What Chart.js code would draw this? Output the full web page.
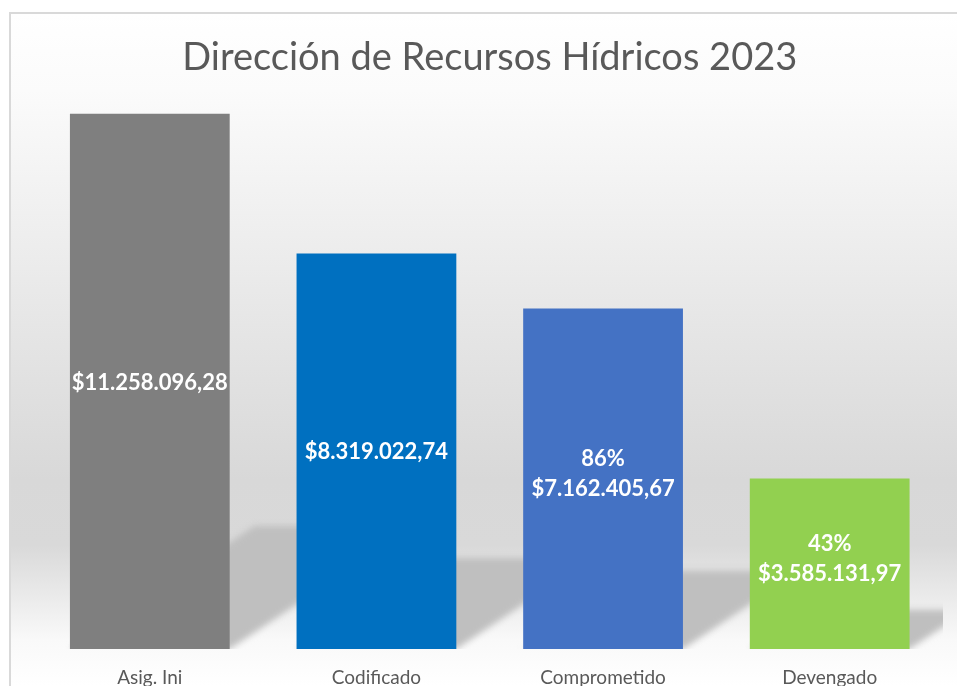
<!DOCTYPE html>
<html lang="es">
<head>
  <meta charset="UTF-8">
  <title>Dirección de Recursos Hídricos 2023</title>
  <script src="https://cdn.jsdelivr.net/npm/chart.js"></script>
  <style>
    body {
      margin: 0;
      background: #ffffff;
    }
    #chart {
      display: block;
    }
  </style>
</head>
<body>
  <canvas id="chart" width="957" height="686"></canvas>

  <script>
    // Data
    const categories = ['Asig. Ini', 'Codificado', 'Comprometido', 'Devengado'];
    const amounts = [11258096.28, 8319022.74, 7162405.67, 3585131.97];
    const percentLabels = ['', '', '86%', '43%'];
    const barColors = ['#7f7f7f', '#0070c0', '#4472c4', '#92d050'];

    const FONT = 'Lato, "Liberation Sans", sans-serif';

    // $11.258.096,28 style
    function money(v) {
      const parts = v.toFixed(2).split('.');
      const int = parts[0].replace(/\B(?=(\d{3})+(?!\d))/g, '.');
      return '$' + int + ',' + parts[1];
    }

    // frame + soft vertical gradient behind the plot
    const backdrop = {
      id: 'backdrop',
      beforeDraw(chart) {
        const ctx = chart.ctx;
        const w = chart.width, h = chart.height;
        ctx.save();
        ctx.fillStyle = '#ffffff';
        ctx.fillRect(0, 0, w, h);
        const g = ctx.createLinearGradient(0, 13, 0, h);
        g.addColorStop(0, '#ffffff');
        g.addColorStop((90 - 13) / (h - 13), '#fbfbfb');
        g.addColorStop((480 - 13) / (h - 13), '#d8d8d8');
        g.addColorStop((545 - 13) / (h - 13), '#d9d9d9');
        g.addColorStop((640 - 13) / (h - 13), '#f9f9f9');
        g.addColorStop(1, '#ffffff');
        ctx.fillStyle = g;
        ctx.fillRect(10, 13, w - 10, h - 13);
        ctx.strokeStyle = '#d9d9d9';
        ctx.lineWidth = 2;
        ctx.beginPath();
        ctx.moveTo(10, h);
        ctx.lineTo(10, 13);
        ctx.lineTo(w, 13);
        ctx.stroke();
        ctx.restore();
      }
    };

    // perspective shadow cast up and to the right of each bar
    const barShadow = {
      id: 'barShadow',
      beforeDatasetsDraw(chart) {
        const ctx = chart.ctx;
        const area = chart.chartArea;
        ctx.save();
        ctx.beginPath();
        ctx.rect(area.left, area.top, area.right - area.left, area.bottom - area.top);
        ctx.clip();
        ctx.filter = 'blur(3px)';
        ctx.fillStyle = '#bfbfbf';
        chart.getDatasetMeta(0).data.forEach(bar => {
          const p = bar.getProps(['x', 'y', 'base', 'width'], true);
          const left = p.x - p.width / 2, right = p.x + p.width / 2;
          const sh = (p.base - p.y) * 0.23;
          const dx = sh * 1.5;
          ctx.beginPath();
          ctx.moveTo(left, p.base);
          ctx.lineTo(right, p.base);
          ctx.lineTo(right + dx, p.base - sh);
          ctx.lineTo(left + dx, p.base - sh);
          ctx.closePath();
          ctx.fill();
        });
        ctx.restore();
      }
    };

    // white labels in the middle of the bars
    const barLabels = {
      id: 'barLabels',
      afterDatasetsDraw(chart) {
        const ctx = chart.ctx;
        ctx.save();
        ctx.fillStyle = '#ffffff';
        ctx.font = 'bold 22px ' + FONT;
        ctx.textAlign = 'center';
        ctx.textBaseline = 'middle';
        chart.getDatasetMeta(0).data.forEach((bar, i) => {
          const p = bar.getProps(['x', 'y', 'base'], true);
          const mid = (p.y + p.base) / 2;
          const lines = percentLabels[i] ? [percentLabels[i], money(amounts[i])] : [money(amounts[i])];
          const step = 30;
          const y0 = mid - (lines.length - 1) * step / 2 - (lines.length > 1 ? 5 : -1);
          lines.forEach((t, k) => ctx.fillText(t, p.x, y0 + k * step));
        });
        ctx.restore();
      }
    };

    new Chart(document.getElementById('chart'), {
      type: 'bar',
      data: {
        labels: categories,
        datasets: [{
          data: amounts,
          backgroundColor: barColors,
          borderWidth: 0,
          categoryPercentage: 1,
          barPercentage: 0.705
        }]
      },
      options: {
        responsive: false,
        animation: false,
        layout: {
          padding: { left: 36.5, right: 14, top: 0, bottom: 0 }
        },
        plugins: {
          legend: { display: false },
          tooltip: { enabled: false },
          title: {
            display: true,
            text: 'Dirección de Recursos Hídricos 2023',
            color: '#595959',
            font: { family: FONT, size: 38, weight: 'normal', lineHeight: 1.2 },
            padding: { top: 35, bottom: -2 }
          }
        },
        scales: {
          y: {
            display: false,
            min: 0,
            max: 12000000
          },
          x: {
            grid: { display: false },
            border: { display: false },
            ticks: {
              color: '#595959',
              font: { family: FONT, size: 19 },
              padding: 9
            },
            afterFit(scale) { scale.height = 37; }
          }
        }
      },
      plugins: [backdrop, barShadow, barLabels]
    });
  </script>
</body>
</html>
